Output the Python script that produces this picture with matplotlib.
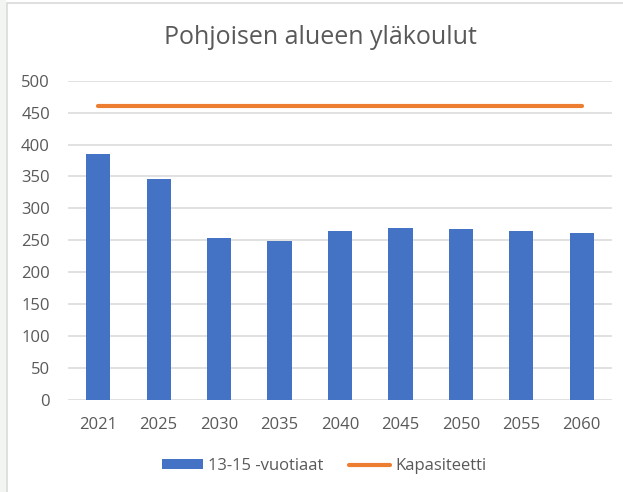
import matplotlib.pyplot as plt
from matplotlib.patches import Rectangle, Patch
from matplotlib.lines import Line2D

# Pupils aged 13-15 and school capacity per year
years = ['2021', '2025', '2030', '2035', '2040', '2045', '2050', '2055', '2060']
pupils = [386, 346, 254, 249, 265, 270, 267, 265, 262]
capacity = [460, 460, 460, 460, 460, 460, 460, 460, 460]

plt.rcParams['font.family'] = ['Open Sans', 'DejaVu Sans']
text_grey = '#595959'
blue = '#4472C4'
orange = '#ED7D31'

fig = plt.figure(figsize=(6.23, 4.92), dpi=100)

# Light strip on the left and the chart frame
fig.patches.append(Rectangle((0, 0), 6 / 623, 1, transform=fig.transFigure,
                             facecolor='#f3f5f3', edgecolor='none', zorder=-2))
fig.patches.append(Rectangle((6.5 / 623, -0.1), 1.2, (489.5 / 492) + 0.1,
                             transform=fig.transFigure, facecolor='white',
                             edgecolor='#d9d9d9', linewidth=1.2, zorder=-1))

ax = fig.add_axes([68 / 623, 92 / 492, 544 / 623, 319.3 / 492])
ax.set_facecolor('none')

x = range(len(years))
ax.bar(x, pupils, width=0.4, color=blue, zorder=2)
ax.plot(x, capacity, color=orange, linewidth=3, solid_capstyle='round', zorder=3)

ax.set_xlim(-0.5, len(years) - 0.5)
ax.set_ylim(0, 500)
ax.set_yticks(range(0, 501, 50))
ax.set_xticks(list(x))
ax.set_xticklabels(years)
ax.tick_params(axis='both', length=0, labelsize=12, labelcolor=text_grey)
ax.tick_params(axis='y', pad=13)
ax.tick_params(axis='x', pad=12)
ax.grid(axis='y', color='#d9d9d9', linewidth=1.1, zorder=0)
for s in ax.spines.values():
    s.set_visible(False)

fig.text(320 / 623, 1 - 38 / 492, 'Pohjoisen alueen yläkoulut', ha='center',
         va='center', fontsize=18, color=text_grey)

handles = [Patch(facecolor=blue, edgecolor='none'),
           Line2D([0], [0], color=orange, linewidth=3, solid_capstyle='round')]
fig.legend(handles, ['13-15 -vuotiaat', 'Kapasiteetti'], loc='center',
           bbox_to_anchor=(324 / 623, 1 - 466 / 492), ncol=2, frameon=False,
           fontsize=12, labelcolor=text_grey, handlelength=2.5,
           handleheight=0.55, handletextpad=0.3, columnspacing=1.5)

fig.savefig('out.png', dpi=100)
